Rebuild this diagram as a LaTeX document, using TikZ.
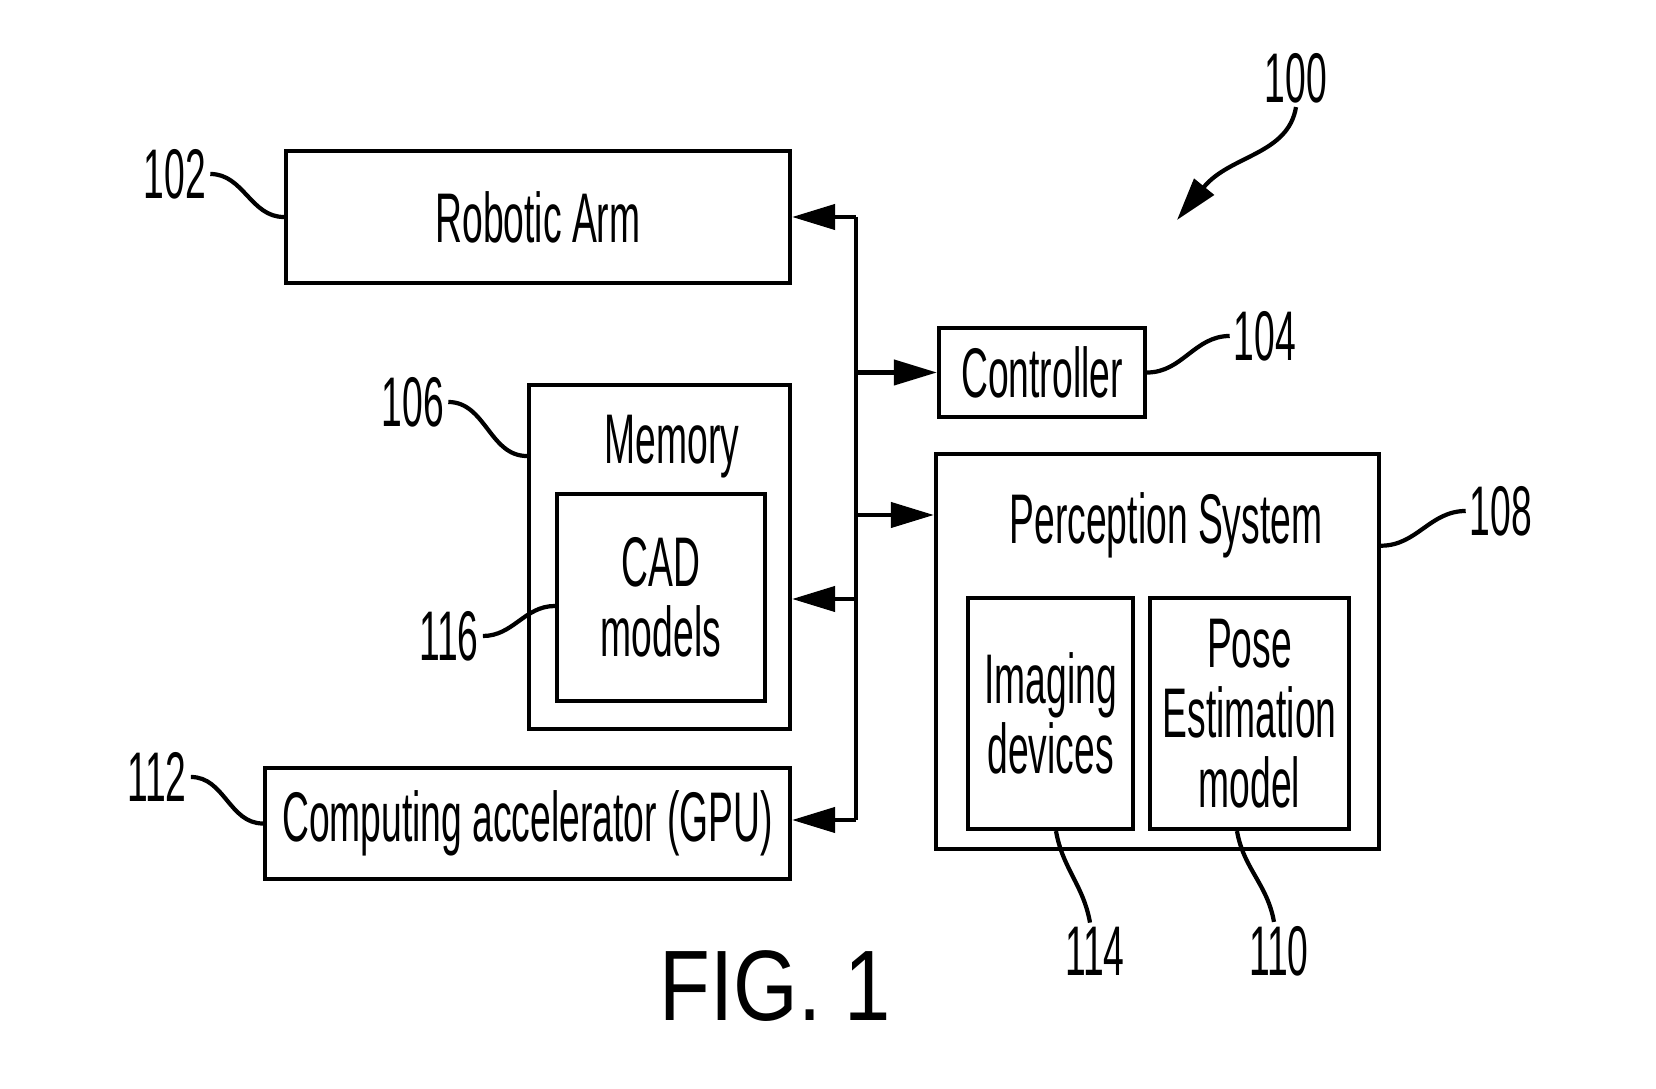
\documentclass[tikz,border=0pt]{standalone}
\usepackage{fontspec}
\setmainfont{Liberation Sans}[FakeStretch=0.53]
\newfontfamily\figfont{Liberation Sans}[FakeStretch=0.83]
\usetikzlibrary{arrows.meta, calc}
\newcommand\dfont{\fontsize{20}{20}\selectfont}
\begin{document}
\begin{tikzpicture}[
        >={Triangle[length=4.3mm,width=2.5mm]},
        blk/.style={rectangle, draw, line width=1.2pt, inner sep=0pt, align=center, font=\dfont},
        txt/.style={inner sep=0pt, align=center, font=\dfont},
        refno/.style={inner sep=1pt, font=\dfont},
        lead/.style={line width=1.2pt},
        bus/.style={line width=1.2pt}
    ]
    \useasboundingbox (0,0) rectangle (16.56,-10.89);

    % Main blocks
    \node[blk, minimum width=5.04cm, minimum height=1.32cm] (arm)  at (5.38,-2.17)   {Robotic Arm};
    \node[blk, minimum width=2.06cm, minimum height=0.89cm] (ctrl) at (10.42,-3.725) {Controller};
    \node[blk, minimum width=2.61cm, minimum height=3.44cm] (mem)  at (6.595,-5.57)  {};
    \node[txt]                                               (memtxt) at (6.72,-4.47) {Memory};
    \node[blk, minimum width=2.08cm, minimum height=2.07cm] (cad)  at (6.61,-5.975)  {CAD\\models};
    \node[blk, minimum width=5.25cm, minimum height=1.11cm] (gpu)  at (5.275,-8.235) {Computing accelerator (GPU)};
    \node[blk, minimum width=4.43cm, minimum height=3.95cm] (perc) at (11.575,-6.515) {};
    \node[txt]                                               (perctxt) at (11.66,-5.25) {Perception System};
    \node[blk, minimum width=1.65cm, minimum height=2.31cm] (img)  at (10.505,-7.135) {Imaging\\devices};
    \node[blk, minimum width=1.99cm, minimum height=2.31cm] (pose) at (12.495,-7.135) {Pose\\Estimation\\model};

    % Bus
    \coordinate (bt) at (8.56,-2.17);
    \coordinate (bb) at (8.56,-8.20);
    \coordinate (pj) at (8.56,-5.15);
    \coordinate (mj) at (8.56,-5.99);
    \draw[bus] (bt) -- (bb);
    \draw[bus, ->] (bt) -- (arm.east);
    \draw[bus, ->] (bt |- ctrl.west) -- (ctrl.west);
    \draw[bus, ->] (pj) -- (pj -| perc.west);
    \draw[bus, ->] (mj) -- (mj -| mem.east);
    \draw[bus, ->] (bb) -- (bb -| gpu.east);

    % Reference numerals
    \node[refno] (lbl100) at (12.96,-0.78) {100};
    \node[refno] (lbl102) at (1.75,-1.74)  {102};
    \node[refno] (lbl104) at (12.65,-3.36) {104};
    \node[refno] (lbl106) at (4.13,-4.02)  {106};
    \node[refno] (lbl108) at (15.01,-5.11) {108};
    \node[refno] (lbl110) at (12.79,-9.51) {110};
    \node[refno] (lbl112) at (1.57,-7.77)  {112};
    \node[refno] (lbl114) at (10.95,-9.51) {114};
    \node[refno] (lbl116) at (4.49,-6.36)  {116};

    % Leader lines
    \coordinate (tip100) at (11.77,-2.20);
    \draw[lead, ->] (lbl100.south) .. controls (12.88,-1.55) and (12.30,-1.55) .. (tip100);
    \draw[lead] (lbl102.east) to[out=0, in=180] (arm.west);
    \draw[lead] (ctrl.east) to[out=0, in=180] (lbl104.west);
    \draw[lead] (lbl106.east) to[out=0, in=180] ($(mem.north west)!0.21!(mem.south west)$);
    \draw[lead] ($(perc.north east)!0.235!(perc.south east)$) to[out=0, in=180] (lbl108.west);
    \draw[lead] ([xshift=-0.125cm]pose.south) to[out=-80, in=100] ([xshift=-0.05cm]lbl110.north);
    \draw[lead] (lbl112.east) to[out=0, in=180] (gpu.west);
    \draw[lead] ([xshift=0.055cm]img.south) to[out=-80, in=100] ([xshift=-0.05cm]lbl114.north);
    \draw[lead] (lbl116.east) to[out=0, in=180] ([yshift=-0.085cm]cad.west);

    % Caption
    \node[inner sep=0pt, font=\figfont\fontsize{28.5}{30}\selectfont] (fig) at (7.75,-9.86) {FIG. 1};

\end{tikzpicture}
\end{document}
